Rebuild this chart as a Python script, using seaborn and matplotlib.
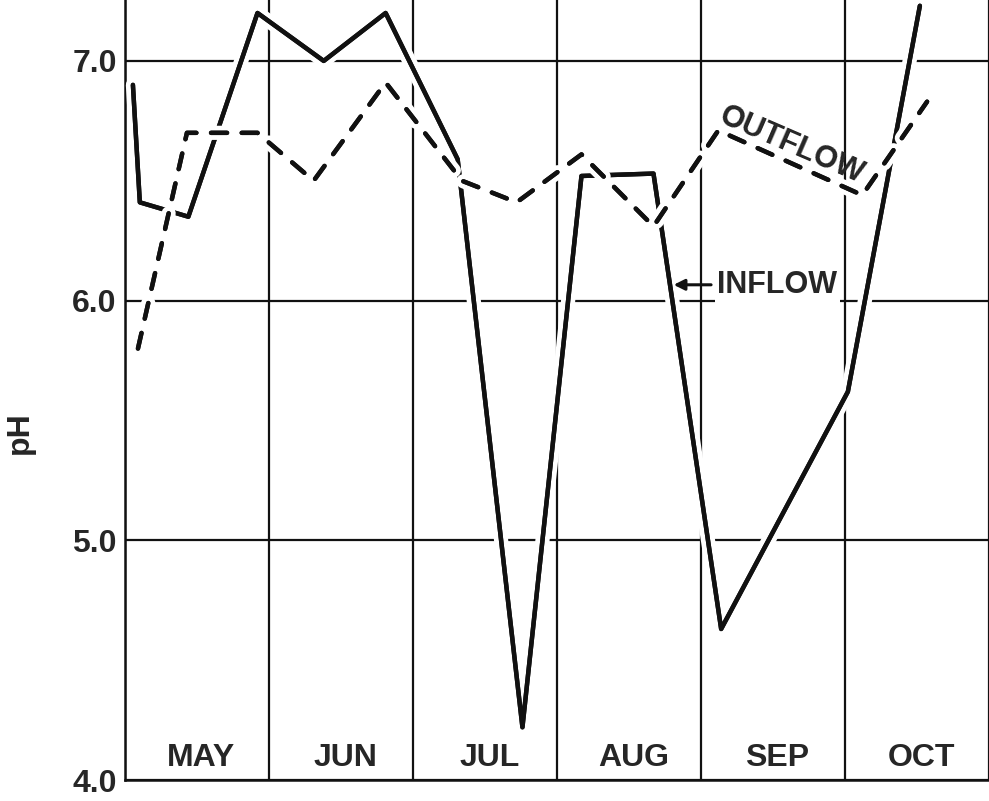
import matplotlib
matplotlib.use("Agg")
import matplotlib.pyplot as plt
import matplotlib.patheffects as pe
import seaborn as sns

# Month labels along the bottom and pH gridline values
months = ["MAY", "JUN", "JUL", "AUG", "SEP", "OCT"]
ph_ticks = [4.0, 5.0, 6.0, 7.0]
ph_tick_labels = ["4.0", "5.0", "6.0", "7.0"]

# Sampling times in months after 1 May, and measured pH
inflow_t = [0.055, 0.103, 0.44, 0.92, 1.38, 1.81, 2.31, 2.76, 3.17, 3.67, 4.14, 5.02, 5.52]
inflow_ph = [6.90, 6.41, 6.35, 7.20, 7.00, 7.20, 6.59, 4.22, 6.52, 6.53, 4.63, 5.62, 7.23]

outflow_t = [0.09, 0.43, 0.92, 1.31, 1.81, 2.34, 2.72, 3.17, 3.67, 4.12, 5.12, 5.57]
outflow_ph = [5.80, 6.70, 6.70, 6.50, 6.91, 6.50, 6.41, 6.61, 6.31, 6.71, 6.44, 6.83]

sns.set_style("white")
fonts = ["Liberation Sans", "DejaVu Sans"]
plt.rcParams["font.family"] = fonts

fig = plt.figure(figsize=(9.89, 8.01), dpi=100)
ax = fig.add_axes([125 / 989, 21 / 801, 1 - 125 / 989, 780 / 801])

ink = "#111111"
LW = 3.2
halo = [pe.withStroke(linewidth=LW + 7, foreground="white"), pe.Normal()]

sns.lineplot(x=inflow_t, y=inflow_ph, sort=False, estimator=None, color=ink, ax=ax)
sns.lineplot(x=outflow_t, y=outflow_ph, sort=False, estimator=None, color=ink, ax=ax)
inflow_line, outflow_line = ax.lines[0], ax.lines[1]
for ln in (inflow_line, outflow_line):
    ln.set_linewidth(LW)
    ln.set_solid_capstyle("round")
    ln.set_solid_joinstyle("round")
    ln.set_dash_capstyle("round")
    ln.set_path_effects(halo)
    ln.set_zorder(3)
outflow_line.set_linestyle((0, (3.6, 3.3)))
outflow_line.set_zorder(4)

ax.set_xlim(0, 864 / 145)
ax.set_ylim(4.0, 7.0 + 61 / 240)

# month boundaries and pH gridlines
ax.set_xticks(range(0, 7))
ax.set_xticklabels([])
ax.set_yticks(ph_ticks)
ax.set_yticklabels(ph_tick_labels, fontsize=23, fontweight="bold")
for lab in ax.get_yticklabels():
    lab.set_verticalalignment("center_baseline")
ax.tick_params(axis="both", length=0)
ax.tick_params(axis="y", pad=6)
ax.grid(True, color=ink, linewidth=1.6)
ax.set_axisbelow(True)

for side in ("top", "right"):
    ax.spines[side].set_visible(False)
for side in ("left", "bottom"):
    ax.spines[side].set_color(ink)
    ax.spines[side].set_linewidth(1.8)

for i, m in enumerate(months):
    ax.text(i + 0.53, 4.09, m, ha="center", va="center", fontsize=23,
            fontweight="bold", zorder=5)

ax.set_ylabel("pH", fontsize=23, fontweight="bold")
ax.yaxis.set_label_coords(-0.104, 0.445)

# series labels
ax.text(4.53, 6.065, "INFLOW", ha="center", va="center", fontsize=22,
        fontweight="bold", zorder=5,
        bbox=dict(facecolor="white", edgecolor="none", pad=2))
ax.annotate("", xy=(3.81, 6.066), xytext=(4.07, 6.066),
            arrowprops=dict(arrowstyle="-|>", color=ink, lw=2.2,
                            mutation_scale=16, shrinkA=0, shrinkB=0),
            zorder=5)
ax.text(4.628, 6.646, "OUTFLOW", rotation=-23.4, rotation_mode="anchor",
        ha="center", va="center", fontsize=22, fontweight="bold", zorder=5)

fig.savefig("out.png", dpi=100, facecolor="white")
